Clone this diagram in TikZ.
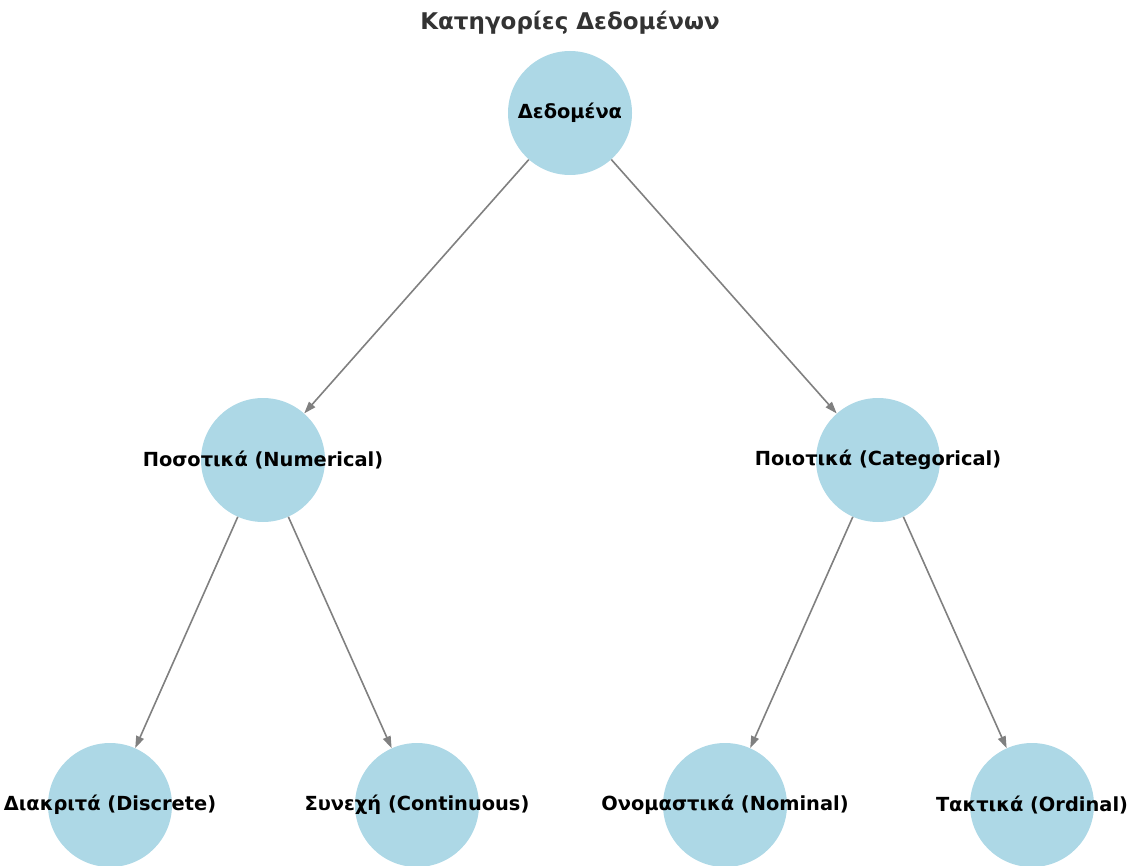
\documentclass[tikz,border=0pt]{standalone}
\usepackage{fontspec}
\setmainfont{DejaVu Sans}
\usetikzlibrary{arrows.meta}
\definecolor{nodeblue}{HTML}{ADD8E6}
\definecolor{titlegray}{HTML}{333333}
\begin{document}
\begin{tikzpicture}[x=1pt,y=-1pt,
  cnode/.style={circle,fill=nodeblue,minimum size=124pt,inner sep=0pt,
    label={[font=\fontsize{19.4}{22}\selectfont\bfseries]center:#1}},
  arr/.style={draw=gray,line width=1.6pt,-{Triangle[length=12pt,width=8pt]}}]
\useasboundingbox (0,0) rectangle (1131,866);
\node[font=\fontsize{23}{26}\selectfont\bfseries,text=titlegray] (title) at (570,23) {Κατηγορίες Δεδομένων};
% levels
\node[cnode={Δεδομένα}] (dat) at (570,113) {};
\node[cnode={Ποσοτικά (Numerical)}] (num) at (263,460) {};
\node[cnode={Ποιοτικά (Categorical)}] (cat) at (878,460) {};
\node[cnode={Διακριτά (Discrete)}] (dis) at (110,805) {};
\node[cnode={Συνεχή (Continuous)}] (con) at (417,805) {};
\node[cnode={Ονομαστικά (Nominal)}] (nom) at (725,805) {};
\node[cnode={Τακτικά (Ordinal)}] (ord) at (1032,805) {};
% edges
\draw[arr](dat)--(num);
\draw[arr](dat)--(cat);
\draw[arr](num)--(dis);
\draw[arr](num)--(con);
\draw[arr](cat)--(nom);
\draw[arr](cat)--(ord);
\end{tikzpicture}
\end{document}
